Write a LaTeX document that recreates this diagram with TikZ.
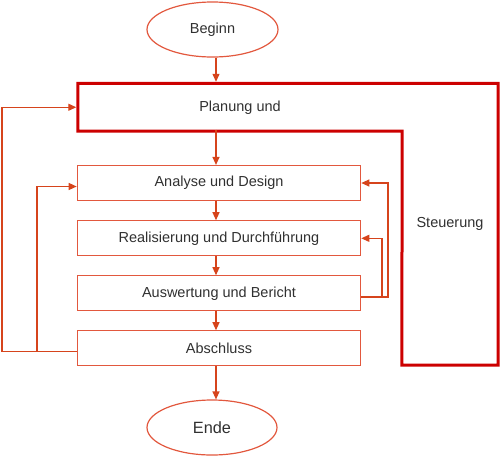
\documentclass[tikz,border=0pt]{standalone}
\usepackage{fontspec}
\setmainfont{Liberation Sans}
\usetikzlibrary{shapes.geometric,arrows.meta}
\definecolor{boxc}{HTML}{E2583E}
\definecolor{arrc}{HTML}{D6441C}
\definecolor{redc}{HTML}{CC0000}
\definecolor{txtc}{HTML}{303030}
\tikzset{
  stepbox/.style={draw=boxc, line width=1.2pt, minimum width=283.4pt, minimum height=35pt, inner sep=0pt, text=txtc, font=\fontsize{14.5}{17}\selectfont},
  ovalbox/.style={ellipse, draw=boxc, line width=1.2pt, minimum width=131pt, minimum height=55pt, inner sep=0pt, text=txtc, font=\fontsize{14.5}{17}\selectfont},
  plainbox/.style={inner sep=0pt, text=txtc, font=\fontsize{14.5}{17}\selectfont},
  arr/.style={draw=arrc, line width=1.2pt, -{Triangle[length=8pt,width=7pt]}},
  conn/.style={draw=arrc, line width=1.2pt},
  frame/.style={draw=redc, line width=3pt, line join=miter}
}
\begin{document}
\begin{tikzpicture}[x=1pt,y=-1pt]
\useasboundingbox (0,0) rectangle (500,456);
% nodes
\node[ovalbox] (beg) at (212.5,29.5) {Beginn};
\node[plainbox, minimum width=324pt, minimum height=47.5pt] (plan) at (240,107.25) {Planung und};
\node[plainbox, minimum width=96pt, minimum height=281.5pt] (steu) at (450,224.25) {Steuerung};
\node[stepbox] (ana) at (219,183) {Analyse und Design};
\node[stepbox] (rea) at (219,238.3) {Realisierung und Durchführung};
\node[stepbox] (aus) at (219,293.3) {Auswertung und Bericht};
\node[stepbox] (abs) at (219,348.3) {Abschluss};
\node[ovalbox, minimum width=130pt, font=\fontsize{16.3}{19}\selectfont] (end) at (212,427.5) {Ende};
% frame of Planung und Steuerung
\draw[frame] (plan.north west) -- (steu.north east) -- (steu.south east) -- (steu.south west) -- (plan.south east) -- (plan.south west) -- cycle;
% helper coordinates
\coordinate (spine) at (216,0);
\coordinate (lo) at (2,351.7);
\coordinate (li) at (37,351.7);
\coordinate (ain) at (0,186.5);
\coordinate (ro) at (388,297);
\coordinate (ri) at (382,297);
% main flow
\draw[arr] (beg.south -| spine) -- ([yshift=1.5pt]plan.north -| spine);
\draw[arr] ([yshift=1.5pt]plan.south -| spine) -- (ana.north -| spine);
\draw[arr] (ana.south -| spine) -- (rea.north -| spine);
\draw[arr] (rea.south -| spine) -- (aus.north -| spine);
\draw[arr] (aus.south -| spine) -- (abs.north -| spine);
\draw[arr] (abs.south -| spine) -- (end.north -| spine);
% left feedback loops
\draw[arr] (abs.west |- lo) -- (lo) |- ([xshift=-1.5pt]plan.west);
\draw[arr] (li) |- (ana.west |- ain);
% right feedback loops
\draw[arr] (aus.east |- ro) -- (ro) |- (ana.east);
\draw[arr] (ri) |- (rea.east);
\end{tikzpicture}
\end{document}
